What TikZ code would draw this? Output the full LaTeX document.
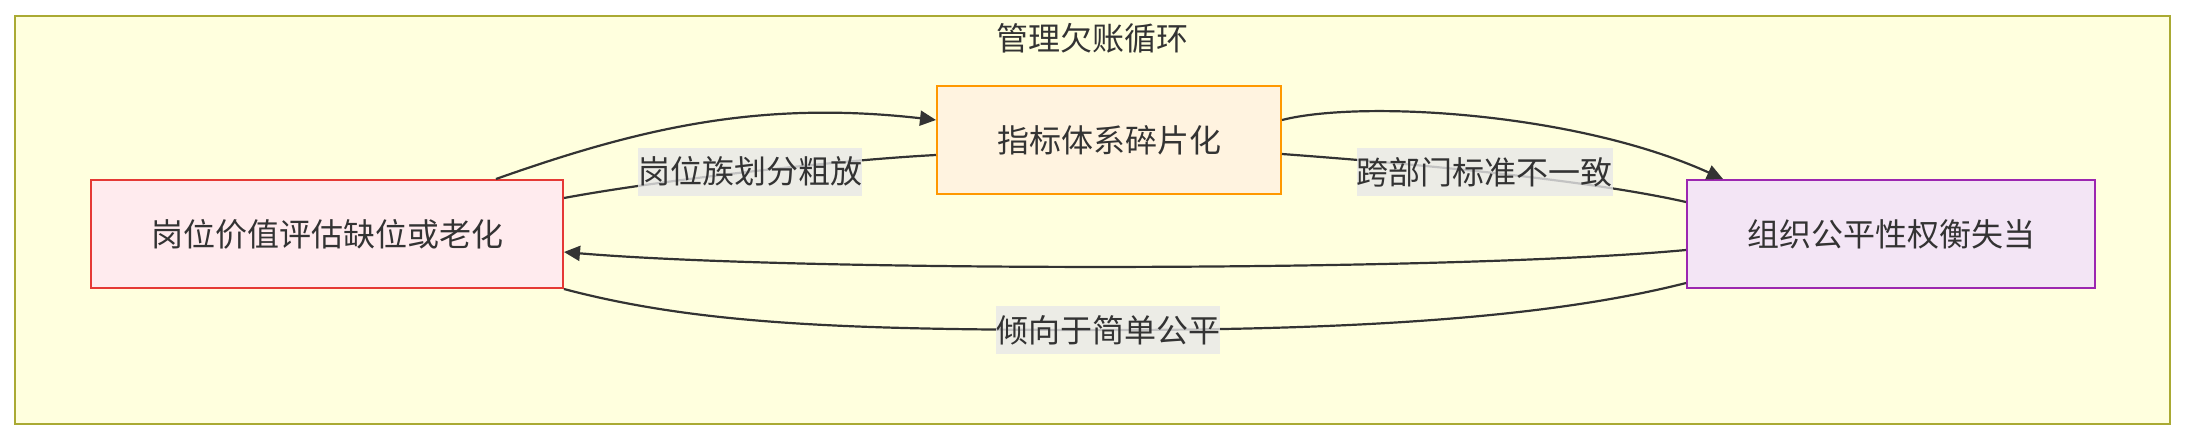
\documentclass[tikz,border=0pt]{standalone}
\usepackage{fontspec}
\newfontfamily\cjk{Noto Sans CJK SC}
\usetikzlibrary{arrows.meta,calc}
\definecolor{framefill}{HTML}{FFFFDE}
\definecolor{framedraw}{HTML}{AAAA33}
\definecolor{redfill}{HTML}{FFEBEE}
\definecolor{reddraw}{HTML}{E53935}
\definecolor{orfill}{HTML}{FFF3E0}
\definecolor{ordraw}{HTML}{FF9800}
\definecolor{pufill}{HTML}{F3E5F5}
\definecolor{pudraw}{HTML}{9C27B0}
\definecolor{ink}{HTML}{333333}
\definecolor{labgray}{HTML}{E8E8E8}
\begin{document}
\begin{tikzpicture}[x=0.5pt,y=-0.5pt,
  txt/.style={font=\cjk\fontsize{16}{19}\selectfont, text=ink},
  box/.style={txt, draw, line width=1pt, minimum height=54pt, inner sep=0pt},
  lab/.style={txt, fill=labgray, fill opacity=0.8, text opacity=1, inner xsep=0pt, inner ysep=0pt, minimum height=24pt},
  edge/.style={draw=ink, line width=1.1pt},
  arr/.style={edge, -{Triangle[length=8pt,width=7.5pt]}}
]
\useasboundingbox (0,0) rectangle (2186,440);
\fill[white] (0,0) rectangle (2186,440);
\draw[fill=framefill, draw=framedraw, line width=1pt] (15,16) rectangle (2170,424);
\node[txt] (title) at (1092,38) {管理欠账循环};

\node[box, fill=redfill, draw=reddraw, minimum width=236pt] (red) at (327,234) {岗位价值评估缺位或老化};
\node[box, fill=orfill, draw=ordraw, minimum width=172pt] (or) at (1109,140) {指标体系碎片化};
\node[box, fill=pufill, draw=pudraw, minimum width=204pt] (pu) at (1891,234) {组织公平性权衡失当};

% red -> orange (arrow)
\draw[arr] ($(red.north west)+(406,0)$) .. controls (640,128) and (760,100) .. ($(or.west)+(0,-20)$);
% red -- orange (label)
\draw[edge] ($(red.north east)+(0,19)$) .. controls (660,180) and (840,160) .. ($(or.west)+(0,15)$)
  node[lab, pos=0.5] (lab1) {岗位族划分粗放};
% orange -> purple (arrow)
\draw[arr] ($(or.east)+(0,-20)$) .. controls (1360,100) and (1575,112) .. ($(pu.north west)+(37,0)$);
% orange -- purple (label)
\draw[edge] ($(or.east)+(0,14)$) .. controls (1390,162) and (1580,178) .. ($(pu.north west)+(0,23)$)
  node[lab, pos=0.5] (lab2) {跨部门标准不一致};
% purple -> red (arrow)
\draw[arr] ($(pu.west)+(0,16)$) .. controls (1450,272) and (800,272) .. ($(red.east)+(0,18)$);
% red -- purple (label)
\coordinate (fm) at (1108,330);
\draw[edge] (red.south east) .. controls (700,325) and (850,330) .. (fm)
  .. controls (1380,330) and (1560,315) .. ($(pu.south west)+(0,-6)$);
\node[lab] (lab3) at (fm) {倾向于简单公平};
\end{tikzpicture}
\end{document}
